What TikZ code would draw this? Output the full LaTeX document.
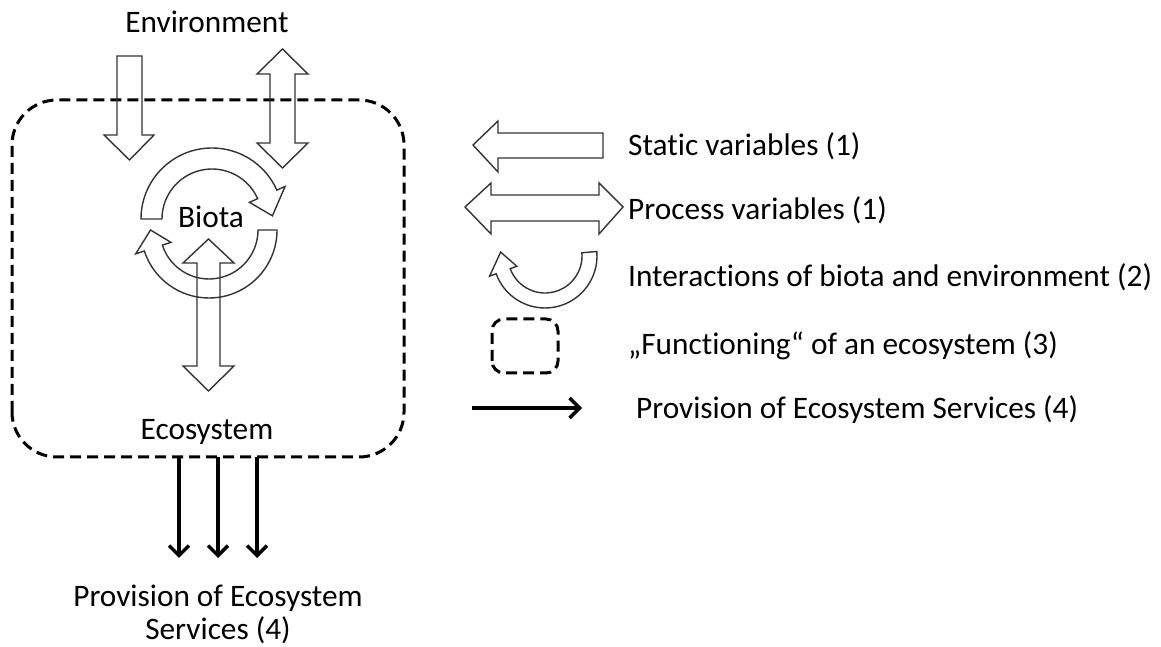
\documentclass[tikz,border=0pt]{standalone}
\usepackage{fontspec}
\setmainfont{Carlito}[Ligatures={NoCommon}]
\usetikzlibrary{arrows.meta}
\begin{document}
\begin{tikzpicture}[x=1pt,y=1pt,
  outl/.style={draw=black!80,line width=1.4pt,line join=miter},
  dbox/.style={draw=black,line width=3pt,dash pattern=on 11pt off 6pt},
  svc/.style={draw=black,line width=3.4pt,-{Straight Barb[length=10pt,width=20pt,line width=3.4pt]}},
  lbl/.style={font=\fontsize{31.3}{33}\selectfont,inner sep=0pt},
  leg/.style={lbl,anchor=west}]
\useasboundingbox (0,0) rectangle (1161,647);

% ecosystem box
\draw[dbox,rounded corners=45pt] (12,190) rectangle (404,547);
\coordinate (boxb1) at (179,190);
\coordinate (boxb2) at (218,190);
\coordinate (boxb3) at (257,190);

% static arrow (environment -> ecosystem)
\draw[outl] (117,591) -- (142,591) -- (142,512) -- (154,512) -- (129.5,487) -- (104,512) -- (117,512) -- cycle;
% process double arrow
\draw[outl] (282.5,598) -- (308,573) -- (295,573) -- (295,504) -- (308,504) -- (282.5,479) -- (257,504) -- (270,504) -- (270,573) -- (257,573) -- cycle;

% upper circular arrow
\begin{scope}[shift={(212,428)}]
\draw[outl] (180:71) arc[start angle=180,end angle=24,radius=71] -- (24:80) -- (3:60.5) -- (24:41) -- (24:50) arc[start angle=24,end angle=180,radius=50] -- cycle;
\end{scope}
% lower circular arrow
\begin{scope}[shift={(209,417)}]
\draw[outl] (0:68) arc[start angle=0,end angle=-162,radius=68] -- (-162:77) -- (180:58.5) -- (-162:40) -- (-162:49) arc[start angle=-162,end angle=0,radius=49] -- cycle;
\end{scope}
% biota <-> ecosystem double arrow
\draw[outl] (208.5,408) -- (234,384) -- (220,384) -- (220,281) -- (234,281) -- (208.5,256) -- (183,281) -- (197,281) -- (197,384) -- (183,384) -- cycle;

% texts
\node[lbl] (env) at (207,625) {Environment};
\node[lbl] (biota) at (211,430) {Biota};
\node[lbl] (eco) at (207,215) {Ecosystem};
\node[lbl,align=center] (prov) at (218,33) {Provision of Ecosystem\\Services (4)};
\coordinate (t1) at (179,89);
\coordinate (t2) at (218,89);
\coordinate (t3) at (257,89);
\draw[svc] (boxb1) -- (t1);
\draw[svc] (boxb2) -- (t2);
\draw[svc] (boxb3) -- (t3);

% legend
\draw[outl] (473,502) -- (498,526) -- (498,514) -- (603,514) -- (603,489) -- (498,489) -- (498,475) -- cycle;
\draw[outl] (465,440) -- (491,464) -- (491,452) -- (599,452) -- (599,464) -- (623,440) -- (599,413) -- (599,426) -- (491,426) -- (491,413) -- cycle;
\begin{scope}[shift={(545,391)}]
\draw[outl] (5:52) arc[start angle=5,end angle=-160,radius=52] -- (-160:59) -- (175:44.5) -- (-160:30) -- (-160:37) arc[start angle=-160,end angle=5,radius=37] -- cycle;
\end{scope}
\draw[dbox,rounded corners=12pt] (492,274) rectangle (558,328);
\coordinate (la) at (472,239);
\coordinate (lb) at (582,239);
\draw[svc] (la) -- (lb);

\node[leg] (l1) at (628,501) {Static variables (1)};
\node[leg] (l2) at (628,437) {Process variables (1)};
\node[leg] (l3) at (628,370) {Interactions of biota and environment (2)};
\node[leg] (l4) at (628,301) {„Functioning“ of an ecosystem (3)};
\node[leg] (l5) at (636,237) {Provision of Ecosystem Services (4)};
\end{tikzpicture}
\end{document}
